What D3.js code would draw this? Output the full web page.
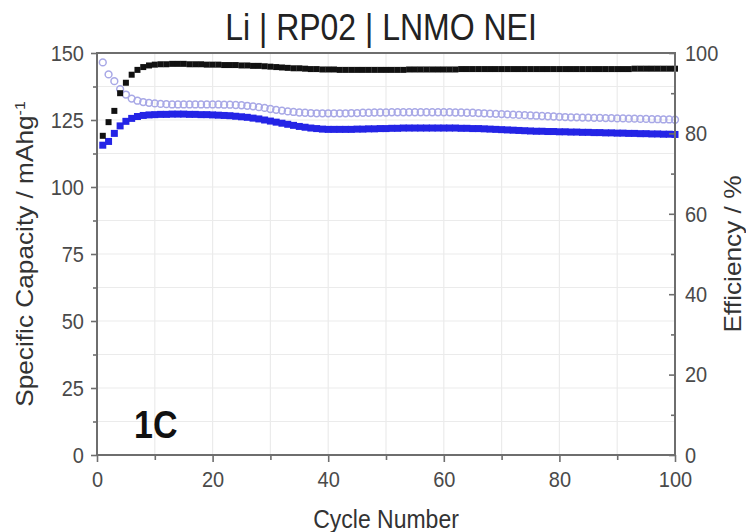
<!DOCTYPE html>
<html>
<head>
<meta charset="utf-8">
<script src="https://cdn.jsdelivr.net/npm/d3@7"></script>
<style>
  body { margin: 0; background: #fff; }
  svg text { font-family: "Liberation Sans", Arial, sans-serif; }
</style>
</head>
<body>
<div id="chart"></div>
<script>
// cycle numbers 1..100
const cycles = [
  1,2,3,4,5,6,7,8,9,10,11,12,13,14,15,16,17,18,19,20,
  21,22,23,24,25,26,27,28,29,30,31,32,33,34,35,36,37,38,39,40,
  41,42,43,44,45,46,47,48,49,50,51,52,53,54,55,56,57,58,59,60,
  61,62,63,64,65,66,67,68,69,70,71,72,73,74,75,76,77,78,79,80,
  81,82,83,84,85,86,87,88,89,90,91,92,93,94,95,96,97,98,99,100
];

// coulombic efficiency, % (right axis)
const efficiency = [
  79.4, 82.8, 85.6, 90.0, 92.6, 94.6, 95.8, 96.5, 96.9, 97.1,
  97.2, 97.2, 97.3, 97.3, 97.3, 97.2, 97.2, 97.2, 97.1, 97.1,
  97.1, 97.0, 97.0, 97.0, 96.9, 96.9, 96.8, 96.8, 96.7, 96.6,
  96.5, 96.4, 96.3, 96.2, 96.2, 96.1, 96.0, 96.0, 95.9, 95.9,
  95.9, 95.8, 95.8, 95.8, 95.8, 95.8, 95.8, 95.8, 95.8, 95.8,
  95.8, 95.8, 95.8, 95.9, 95.9, 95.9, 95.9, 95.9, 95.9, 95.9,
  95.9, 95.9, 96.0, 96.0, 96.0, 96.0, 96.0, 96.0, 96.0, 96.0,
  96.0, 96.0, 96.0, 96.0, 96.0, 96.0, 96.0, 96.0, 96.0, 96.0,
  96.0, 96.0, 96.0, 96.0, 96.0, 96.0, 96.0, 96.0, 96.0, 96.0,
  96.0, 96.0, 96.1, 96.1, 96.1, 96.1, 96.1, 96.1, 96.1, 96.1
];

// discharge capacity, mAh/g (filled blue)
const discharge = [
  115.6, 117.0, 120.0, 122.8, 124.5, 125.6, 126.3, 126.7, 126.9, 127.0,
  127.1, 127.1, 127.2, 127.2, 127.2, 127.1, 127.1, 127.0, 127.0, 126.9,
  126.8, 126.7, 126.6, 126.4, 126.2, 126.0, 125.7, 125.4, 125.0, 124.6,
  124.2, 123.8, 123.4, 123.0, 122.6, 122.3, 122.0, 121.8, 121.6, 121.5,
  121.5, 121.5, 121.5, 121.5, 121.6, 121.6, 121.7, 121.7, 121.8, 121.8,
  121.9, 121.9, 122.0, 122.0, 122.0, 122.0, 122.0, 122.0, 122.0, 122.0,
  122.0, 122.0, 121.9, 121.9, 121.8, 121.8, 121.7, 121.6, 121.5, 121.4,
  121.3, 121.2, 121.1, 121.0, 120.9, 120.8, 120.8, 120.7, 120.7, 120.6,
  120.6, 120.5, 120.5, 120.4, 120.4, 120.3, 120.3, 120.2, 120.2, 120.1,
  120.1, 120.0, 120.0, 119.9, 119.9, 119.8, 119.8, 119.7, 119.7, 119.6
];

// charge capacity, mAh/g (open light purple circles)
const charge = [
  146.5, 142.0, 139.5, 136.5, 134.5, 133.0, 132.2, 131.7, 131.4, 131.2,
  131.0, 130.9, 130.8, 130.8, 130.8, 130.8, 130.8, 130.8, 130.8, 130.8,
  130.8, 130.7, 130.7, 130.6, 130.5, 130.3, 130.1, 129.8, 129.5, 129.1,
  128.8, 128.5, 128.2, 128.0, 127.8, 127.7, 127.6, 127.5, 127.5, 127.5,
  127.5, 127.5, 127.5, 127.6, 127.6, 127.7, 127.7, 127.8, 127.8, 127.8,
  127.9, 127.9, 127.9, 127.9, 127.9, 127.9, 127.9, 127.9, 127.9, 127.9,
  127.9, 127.8, 127.8, 127.7, 127.7, 127.6, 127.5, 127.4, 127.3, 127.2,
  127.1, 127.0, 126.9, 126.8, 126.7, 126.6, 126.5, 126.4, 126.3, 126.2,
  126.1, 126.0, 126.0, 125.9, 125.9, 125.8, 125.8, 125.7, 125.7, 125.6,
  125.6, 125.5, 125.5, 125.4, 125.4, 125.3, 125.3, 125.2, 125.2, 125.1
];

const xTicks = [0, 20, 40, 60, 80, 100];
const xMinor = [10, 30, 50, 70, 90];
const capTicks = [0, 25, 50, 75, 100, 125, 150];
const capMinor = [12.5, 37.5, 62.5, 87.5, 112.5, 137.5];
const effTicks = [0, 20, 40, 60, 80, 100];
const effMinor = [10, 30, 50, 70, 90];

const W = 746, H = 532;
const margin = {top: 53, right: 71, bottom: 77, left: 97};
const width = W - margin.left - margin.right;
const height = H - margin.top - margin.bottom;
const stretch = 1.14; // the picture's text is a bit taller than wide

const svg = d3.select('#chart').append('svg')
  .attr('width', W)
  .attr('height', H);

const g = svg.append('g')
  .attr('transform', `translate(${margin.left},${margin.top})`);

const x = d3.scaleLinear().domain([0, 100]).range([0, width]);
const yCap = d3.scaleLinear().domain([0, 150]).range([height, 0]);
const yEff = d3.scaleLinear().domain([0, 100]).range([height, 0]);

// grid
const grid = g.append('g').attr('stroke', '#ebebeb').attr('stroke-width', 1.2);
grid.selectAll('line.v')
  .data(xTicks.concat(xMinor).filter(d => d > 0 && d < 100))
  .enter().append('line')
  .attr('x1', d => x(d)).attr('x2', d => x(d))
  .attr('y1', 0).attr('y2', height);
grid.selectAll('line.h')
  .data(capTicks.concat(capMinor).filter(d => d > 0 && d < 150))
  .enter().append('line')
  .attr('class', 'h')
  .attr('x1', 0).attr('x2', width)
  .attr('y1', d => yCap(d)).attr('y2', d => yCap(d));

// data
const rows = cycles.map((c, i) => ({c, eff: efficiency[i], dis: discharge[i], chg: charge[i]}));

g.append('g').selectAll('circle')
  .data(rows)
  .enter().append('circle')
  .attr('cx', d => x(d.c))
  .attr('cy', d => yCap(d.chg))
  .attr('r', 3.4)
  .attr('fill', 'none')
  .attr('stroke', '#a8a8e6')
  .attr('stroke-width', 1.5);

g.append('g').selectAll('rect')
  .data(rows)
  .enter().append('rect')
  .attr('x', d => x(d.c) - 3.5)
  .attr('y', d => yCap(d.dis) - 3.5)
  .attr('width', 7)
  .attr('height', 7)
  .attr('fill', '#2424e6');

g.append('g').selectAll('rect')
  .data(rows)
  .enter().append('rect')
  .attr('x', d => x(d.c) - 3)
  .attr('y', d => yEff(d.eff) - 3)
  .attr('width', 6)
  .attr('height', 6)
  .attr('fill', '#111');

// axes
function styleAxis(sel) {
  sel.select('.domain').remove();
  sel.selectAll('.tick line').attr('stroke', '#6e6e6e').attr('stroke-width', 1.6);
  sel.selectAll('.tick text')
    .attr('fill', '#4a4a4a')
    .style('font-size', '20px')
    .attr('transform', `scale(1,${stretch})`);
}

const xAxis = g.append('g')
  .attr('transform', `translate(0,${height})`)
  .call(d3.axisBottom(x).tickValues(xTicks).tickSize(7).tickPadding(7));
styleAxis(xAxis);
g.append('g').attr('transform', `translate(0,${height})`)
  .call(d3.axisBottom(x).tickValues(xMinor).tickSize(5).tickFormat(''))
  .call(styleAxis);

const yAxisL = g.append('g')
  .call(d3.axisLeft(yCap).tickValues(capTicks).tickSize(6).tickPadding(7));
styleAxis(yAxisL);
g.append('g')
  .call(d3.axisLeft(yCap).tickValues(capMinor).tickSize(4).tickFormat(''))
  .call(styleAxis);

const yAxisR = g.append('g')
  .attr('transform', `translate(${width},0)`)
  .call(d3.axisRight(yEff).tickValues(effTicks).tickSize(-6).tickPadding(10));
styleAxis(yAxisR);
g.append('g').attr('transform', `translate(${width},0)`)
  .call(d3.axisRight(yEff).tickValues(effMinor).tickSize(-4).tickFormat(''))
  .call(styleAxis);

// frame
g.append('rect')
  .attr('width', width)
  .attr('height', height)
  .attr('fill', 'none')
  .attr('stroke', '#6e6e6e')
  .attr('stroke-width', 2);

// labels
svg.append('text')
  .attr('transform', `translate(381,40) scale(1,${stretch})`)
  .attr('text-anchor', 'middle')
  .style('font-size', '32px')
  .attr('fill', '#222')
  .text('Li | RP02 | LNMO NEI');

svg.append('text')
  .attr('transform', `translate(${margin.left + width / 2},528) scale(1,${stretch})`)
  .attr('text-anchor', 'middle')
  .style('font-size', '23px')
  .attr('fill', '#333')
  .text('Cycle Number');

const yl = svg.append('text')
  .attr('transform', `translate(33,${margin.top + height / 2}) rotate(-90) scale(${stretch},1)`)
  .attr('text-anchor', 'middle')
  .style('font-size', '23px')
  .attr('fill', '#333');
yl.append('tspan').text('Specific Capacity / mAhg');
yl.append('tspan').attr('dy', '-0.6em').style('font-size', '14px').text('-1');

svg.append('text')
  .attr('transform', `translate(741,${margin.top + height / 2}) rotate(-90) scale(${stretch},1)`)
  .attr('text-anchor', 'middle')
  .style('font-size', '23px')
  .attr('fill', '#333')
  .text('Efficiency / %');

g.append('text')
  .attr('transform', `translate(37,${height - 17}) scale(1,${stretch})`)
  .style('font-size', '34px')
  .style('font-weight', 'bold')
  .attr('fill', '#111')
  .text('1C');
</script>
</body>
</html>
